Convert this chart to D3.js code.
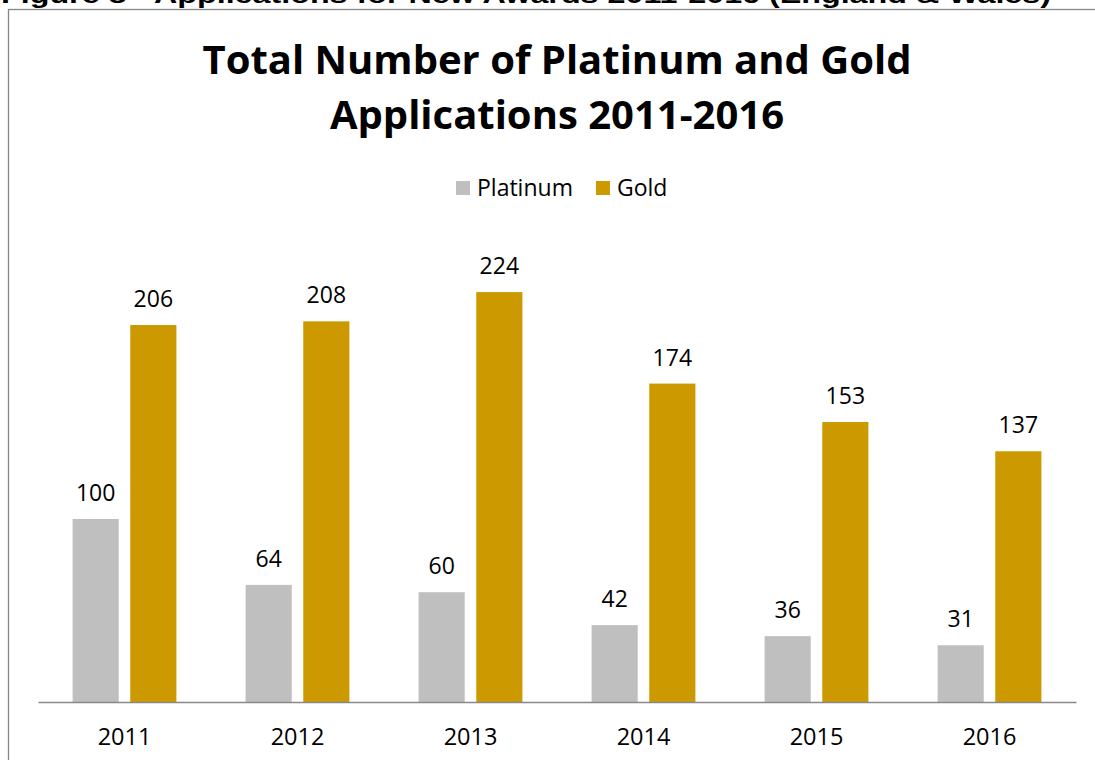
<!DOCTYPE html>
<html>
<head>
<meta charset="utf-8">
<script src="https://cdn.jsdelivr.net/npm/d3@7"></script>
<style>
  html, body { margin: 0; padding: 0; background: #ffffff; }
  svg { display: block; }
</style>
</head>
<body>
<svg id="chart" width="1095" height="760"></svg>
<script>
// Applications per year, by award level
const years = ["2011", "2012", "2013", "2014", "2015", "2016"];
const seriesNames = ["Platinum", "Gold"];
const platinum = [100, 64, 60, 42, 36, 31];
const gold = [206, 208, 224, 174, 153, 137];
const seriesColors = ["#BFBFBF", "#CC9A00"];

const figureHeading = "Figure 8 - Applications for New Awards 2011-2016 (England & Wales)";
const titleLines = ["Total Number of Platinum and Gold", "Applications 2011-2016"];

const bodyFont = "'Open Sans', 'Noto Sans', sans-serif";

const svg = d3.select("#chart");

// Document heading sitting above the chart frame
svg.append("text")
  .attr("x", 1)
  .attr("y", 3)
  .attr("textLength", 1050)
  .attr("lengthAdjust", "spacingAndGlyphs")
  .style("font-family", "'Liberation Sans', Arial, sans-serif")
  .style("font-weight", "bold")
  .style("font-size", "24px")
  .attr("fill", "#000")
  .text(figureHeading);

// Chart frame
svg.append("rect")
  .attr("x", 8.5)
  .attr("y", 9.5)
  .attr("width", 1200)
  .attr("height", 800)
  .attr("fill", "#ffffff")
  .attr("stroke", "#868686")
  .attr("stroke-width", 1.3);

// Title
const title = svg.append("text")
  .attr("text-anchor", "middle")
  .style("font-family", bodyFont)
  .style("font-weight", "bold")
  .style("font-size", "40px")
  .attr("fill", "#000");
titleLines.forEach((line, i) => {
  title.append("tspan")
    .attr("x", 557)
    .attr("y", 74 + i * 55)
    .text(line);
});

// Scales
const x0 = d3.scaleBand()
  .domain(years)
  .range([38, 1076])
  .paddingInner(0.4)
  .paddingOuter(0.2);

const x1 = d3.scaleBand()
  .domain(seriesNames)
  .range([0, x0.bandwidth()])
  .paddingInner(0.2);

const y = d3.scaleLinear()
  .domain([0, 250])
  .range([702, 244.5]);

const color = d3.scaleOrdinal().domain(seriesNames).range(seriesColors);

const rows = years.map((yr, i) => ({
  year: yr,
  values: [
    { key: "Platinum", value: platinum[i] },
    { key: "Gold", value: gold[i] }
  ]
}));

// Bars
const groups = svg.append("g")
  .selectAll("g")
  .data(rows)
  .join("g")
  .attr("transform", d => `translate(${x0(d.year)},0)`);

groups.selectAll("rect")
  .data(d => d.values)
  .join("rect")
  .attr("x", d => x1(d.key))
  .attr("y", d => y(d.value))
  .attr("width", x1.bandwidth())
  .attr("height", d => y(0) - y(d.value))
  .attr("fill", d => color(d.key));

// Value labels
groups.selectAll("text")
  .data(d => d.values)
  .join("text")
  .attr("x", d => x1(d.key) + x1.bandwidth() / 2)
  .attr("y", d => y(d.value) - 18)
  .attr("text-anchor", "middle")
  .style("font-family", bodyFont)
  .style("font-size", "23px")
  .attr("fill", "#000")
  .text(d => d.value);

// Category axis
const xAxis = svg.append("g")
  .attr("transform", `translate(0,${y(0)})`)
  .call(d3.axisBottom(x0).tickSize(0).tickSizeOuter(0).tickPadding(26));

xAxis.select(".domain")
  .attr("stroke", "#898989")
  .attr("stroke-width", 1.5);

xAxis.selectAll("text")
  .style("font-family", bodyFont)
  .style("font-size", "23.5px")
  .attr("fill", "#000");

// Legend
const legend = svg.append("g")
  .selectAll("g")
  .data(seriesNames)
  .join("g")
  .attr("transform", (d, i) => `translate(${[456, 596][i]},181)`);

legend.append("rect")
  .attr("width", 14)
  .attr("height", 14)
  .attr("fill", d => color(d));

legend.append("text")
  .attr("x", 21)
  .attr("y", 15)
  .style("font-family", bodyFont)
  .style("font-size", "23px")
  .attr("fill", "#000")
  .text(d => d);
</script>
</body>
</html>
